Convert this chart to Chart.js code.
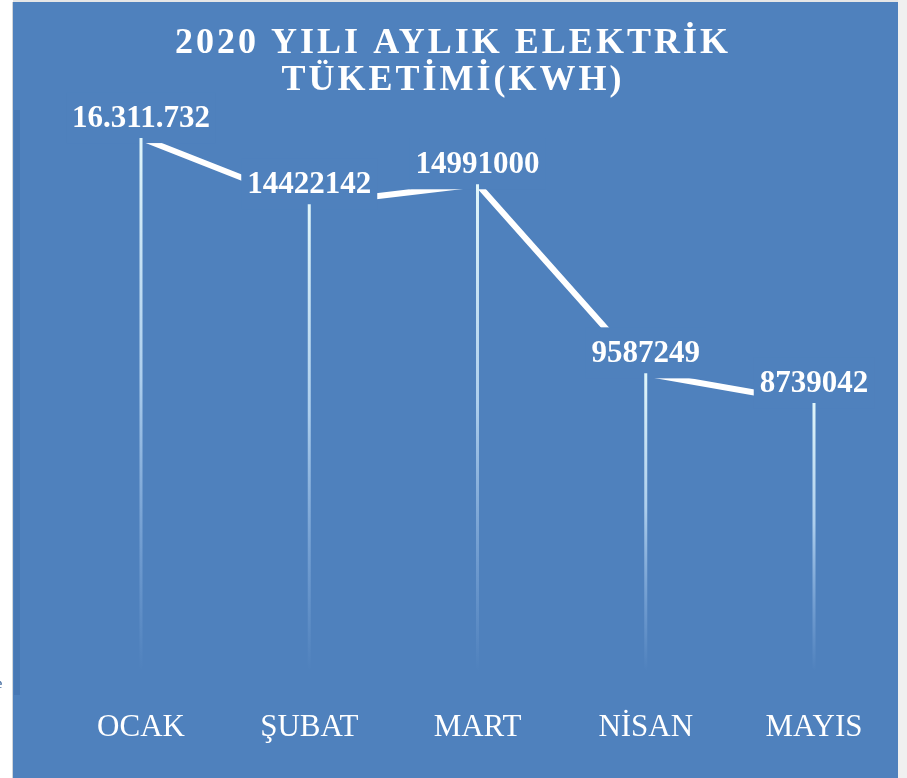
<!DOCTYPE html>
<html>
<head>
<meta charset="utf-8">
<script src="https://cdn.jsdelivr.net/npm/chart.js@4"></script>
<style>
  html, body { margin: 0; padding: 0; background: #fff; }
  #wrap { width: 907px; height: 778px; }
</style>
</head>
<body>
<div id="wrap"><canvas id="chart" width="907" height="778"></canvas></div>
<script>
// data
const months = ['OCAK', 'ŞUBAT', 'MART', 'NİSAN', 'MAYIS'];
const consumption = [16311732, 14422142, 14991000, 9587249, 8739042];
const valueLabels = ['16.311.732', '14422142', '14991000', '9587249', '8739042'];
const titleLines = ['2020 YILI AYLIK ELEKTRİK', 'TÜKETİMİ(KWH)'];

const panelBlue = '#4f81bd';
const serif = "'Liberation Serif', 'DejaVu Serif', serif";

// background panel + title
const backdrop = {
    id: 'backdrop',
    beforeDraw(c) {
        const ctx = c.ctx;
        ctx.save();
        ctx.fillStyle = '#ffffff';
        ctx.fillRect(0, 0, c.width, c.height);
        ctx.fillStyle = '#e6e6e6';
        ctx.fillRect(13, 0, c.width - 13, 2);
        ctx.fillStyle = '#f0f0f0';
        ctx.fillRect(898, 0, 9, c.height);
        ctx.fillStyle = '#d0d4da';
        ctx.fillRect(12, 2, 1, c.height);
        ctx.fillStyle = panelBlue;
        ctx.fillRect(13, 2, 885, c.height - 2);
        // slightly darker inner strip on the left
        ctx.fillStyle = '#4878b4';
        ctx.fillRect(14, 110, 6, 585);

        // stray glyph at the left border
        ctx.fillStyle = '#1f4e8c';
        ctx.font = '14px ' + serif;
        ctx.textAlign = 'left';
        ctx.textBaseline = 'middle';
        ctx.fillText('e', -4, 684);

        // title
        ctx.fillStyle = '#ffffff';
        ctx.font = 'bold 36px ' + serif;
        ctx.textAlign = 'center';
        ctx.textBaseline = 'middle';
        ctx.letterSpacing = '3px';
        ctx.fillText(titleLines[0], 453, 44);
        ctx.fillText(titleLines[1], 453, 81);
        ctx.restore();
    }
};

// label boxes (hide the line), fading drop lines, then the value text
const labelsAndDrops = {
    id: 'labelsAndDrops',
    afterDatasetsDraw(c) {
        const ctx = c.ctx;
        const meta = c.getDatasetMeta(0);
        const bottom = c.chartArea.bottom - 38;
        ctx.save();
        ctx.font = 'bold 31px ' + serif;
        ctx.textAlign = 'center';
        ctx.textBaseline = 'middle';

        // boxes in panel colour
        meta.data.forEach((pt, i) => {
            const w = ctx.measureText(valueLabels[i]).width;
            const cy = pt.y - 20;
            ctx.fillStyle = panelBlue;
            ctx.fillRect(pt.x - w / 2 - 6, cy - 26, w + 12, pt.y + 5 - (cy - 26));
        });

        // drop lines
        meta.data.forEach(pt => {
            const g = ctx.createLinearGradient(0, pt.y, 0, bottom);
            g.addColorStop(0, 'rgba(225,246,250,1)');
            g.addColorStop(0.45, 'rgba(190,220,245,0.85)');
            g.addColorStop(0.8, 'rgba(160,195,235,0.35)');
            g.addColorStop(1, 'rgba(160,195,235,0)');
            ctx.strokeStyle = g;
            ctx.lineWidth = 3;
            ctx.beginPath();
            ctx.moveTo(pt.x, pt.y);
            ctx.lineTo(pt.x, bottom);
            ctx.stroke();
        });

        // value text
        ctx.fillStyle = '#ffffff';
        meta.data.forEach((pt, i) => {
            ctx.fillText(valueLabels[i], pt.x, pt.y - 19);
        });
        ctx.restore();
    }
};

new Chart(document.querySelector('#chart').getContext('2d'), {
    type: 'line',
    data: {
        labels: months,
        datasets: [{
            data: consumption,
            borderColor: '#ffffff',
            borderWidth: 6,
            pointRadius: 0,
            tension: 0,
            clip: false
        }]
    },
    options: {
        responsive: false,
        animation: false,
        events: [],
        layout: {
            padding: { left: 141, right: 93, top: 79, bottom: 32 }
        },
        plugins: {
            legend: { display: false },
            title: { display: false },
            tooltip: { enabled: false }
        },
        scales: {
            x: {
                offset: false,
                grid: { display: false, drawTicks: false },
                border: { display: false },
                ticks: {
                    color: '#ffffff',
                    padding: 0,
                    maxRotation: 0,
                    autoSkip: false,
                    font: { family: serif, size: 31 }
                }
            },
            y: {
                display: false,
                min: 0,
                max: 18000000
            }
        }
    },
    plugins: [backdrop, labelsAndDrops]
});
</script>
</body>
</html>
